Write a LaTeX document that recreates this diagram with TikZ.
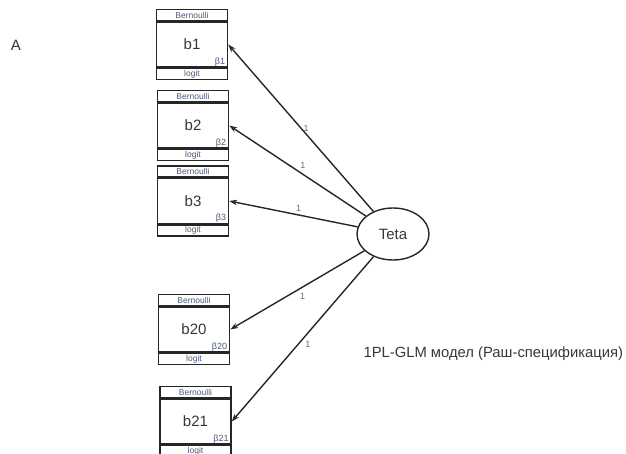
\documentclass[tikz,border=0pt]{standalone}
\usepackage{fontspec}
\setmainfont{Liberation Sans}
\usetikzlibrary{arrows.meta,shapes.geometric}
\definecolor{inktext}{HTML}{33383F}
\definecolor{smalltext}{HTML}{4A5878}
\definecolor{onecol}{HTML}{7D6A50}

\begin{document}
\begin{tikzpicture}[x=1pt,y=-1pt,
    item/.style={draw=black!85, line width=1.5pt, minimum width=71pt, minimum height=45pt,
        inner sep=0pt, text=inktext, font=\fontsize{15}{17}\selectfont},
    strip/.style={draw=black!85, line width=1.5pt, minimum width=71pt, minimum height=11pt,
        inner sep=0pt, text=smalltext, font=\fontsize{8.5}{9}\selectfont},
    coef/.style={inner xsep=3pt, inner ysep=1.5pt, text=smalltext, font=\fontsize{9}{10}\selectfont},
    latent/.style={draw=black!85, ellipse, line width=1.4pt, minimum width=72pt, minimum height=52pt,
        inner sep=0pt, text=inktext, font=\fontsize{15}{17}\selectfont},
    load/.style={-{Stealth[length=8pt,width=5.5pt]}, line width=1.4pt, draw=black!85},
    one/.style={inner sep=2pt, text=onecol, font=\fontsize{9}{10}\selectfont}]
    \useasboundingbox (0,0) rectangle (626,454);
    \node[text=inktext, font=\fontsize{15}{17}\selectfont] (lettera) at (16,45) {A};
    % indicators
    \foreach \n/\x/\y in {1/192/44.5, 2/193/125.5, 3/193/201, 20/194/329.5, 21/195.5/421.5} {
        \node[item] (b\n) at (\x,\y) {b\n};
        \node[strip, anchor=south] (fam\n) at (b\n.north) {Bernoulli};
        \node[strip, anchor=north] (link\n) at (b\n.south) {logit};
        \draw[line width=2.6pt, black!85] (b\n.south west) -- (b\n.south east);
        \node[coef, anchor=south east] (beta\n) at (b\n.south east) {β\n};
    }
    \node[latent] (teta) at (393,234) {Teta};
    % loadings
    \foreach \n/\side in {1/right, 2/above right, 3/above right, 20/below right, 21/below right}
        \draw[load] (teta) -- (b\n.east) node[one, pos=.5, \side] {1};
    \node[anchor=west, text=inktext, font=\fontsize{14.8}{17}\selectfont] (titolo) at (360,354)
        {1PL-GLM модел (Раш-спецификация)};
\end{tikzpicture}
\end{document}
